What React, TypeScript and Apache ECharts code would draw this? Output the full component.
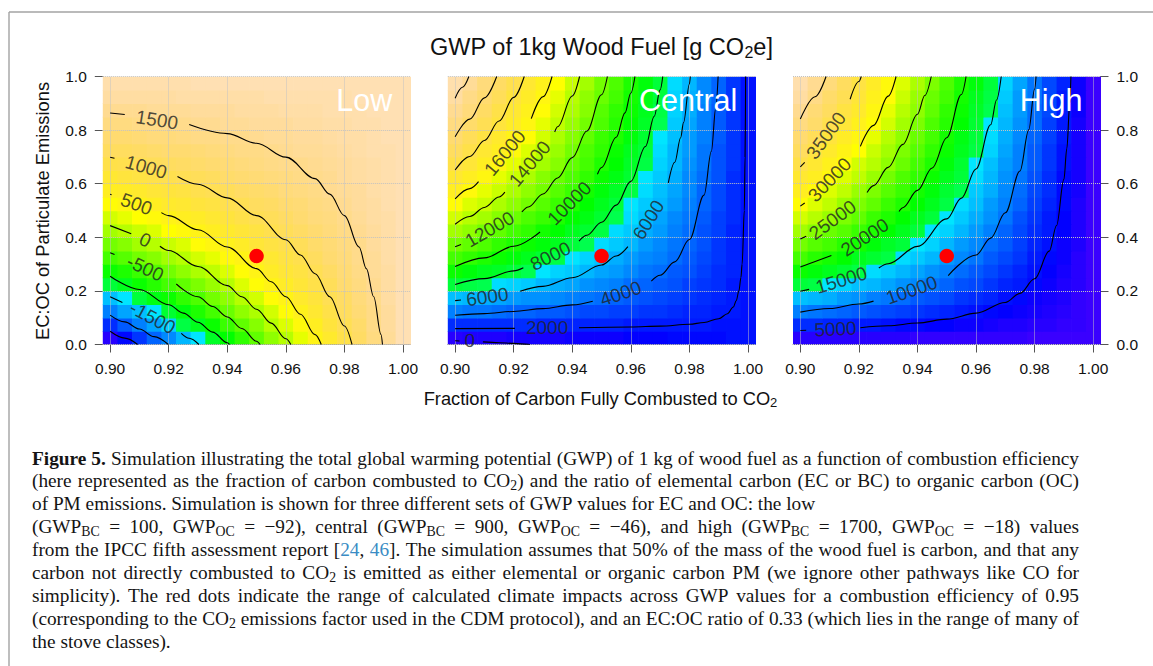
import React, { useEffect, useRef } from 'react';
import * as echarts from 'echarts';

const SANS = '"Liberation Sans", Arial, Helvetica, sans-serif';
const SERIF = '"Liberation Serif", "Times New Roman", serif';

// ---------------- data ----------------
const xCenters = [0.900, 0.905, 0.910, 0.915, 0.920, 0.925, 0.930, 0.935, 0.940, 0.945, 0.950, 0.955, 0.960, 0.965, 0.970, 0.975, 0.980, 0.985, 0.990, 0.995, 1.000];
const yCenters = [0.025, 0.075, 0.125, 0.175, 0.225, 0.275, 0.325, 0.375, 0.425, 0.475, 0.525, 0.575, 0.625, 0.675, 0.725, 0.775, 0.825, 0.875, 0.925, 0.975];
const xTicks = [0.90, 0.92, 0.94, 0.96, 0.98, 1.00];
const yTicks = [0, 0.2, 0.4, 0.6, 0.8, 1.0];
const panelNames = ['Low', 'Central', 'High'];
const colorLimits = [[-2950, 1850], [-650, 23000], [750, 43700]];
const redDot = [0.95, 0.33];

// rows from bottom (y = 0.025) to top (y = 0.975), columns x = 0.900 ... 1.000
const lowGrid = [
  [-2716, -2488, -2261, -2034, -1806, -1579, -1351, -1124, -896, -669, -441, -214, 14, 241, 469, 696, 923, 1151, 1378, 1606, 1833],
  [-2280, -2074, -1869, -1663, -1457, -1252, -1046, -840, -635, -429, -223, -18, 188, 394, 600, 805, 1011, 1217, 1422, 1628, 1833],
  [-1883, -1697, -1512, -1326, -1140, -954, -768, -582, -397, -211, -25, 161, 347, 533, 718, 904, 1090, 1276, 1462, 1648, 1833],
  [-1520, -1353, -1185, -1017, -849, -682, -514, -346, -179, -11, 157, 324, 492, 660, 828, 995, 1163, 1331, 1498, 1666, 1833],
  [-1187, -1036, -885, -734, -583, -432, -281, -130, 21, 172, 323, 474, 625, 776, 927, 1078, 1229, 1380, 1531, 1682, 1833],
  [-879, -744, -608, -472, -337, -201, -65, 70, 206, 342, 477, 613, 748, 884, 1020, 1155, 1291, 1427, 1562, 1698, 1833],
  [-595, -474, -352, -231, -110, 12, 133, 255, 376, 497, 619, 740, 862, 983, 1105, 1226, 1348, 1469, 1590, 1712, 1833],
  [-332, -224, -115, -7, 101, 210, 318, 426, 534, 643, 751, 859, 967, 1076, 1184, 1292, 1400, 1509, 1617, 1725, 1833],
  [-87, 9, 105, 201, 297, 393, 489, 585, 681, 777, 873, 969, 1065, 1161, 1257, 1353, 1449, 1545, 1641, 1737, 1833],
  [142, 226, 311, 395, 480, 564, 649, 734, 818, 903, 987, 1072, 1157, 1241, 1326, 1410, 1495, 1579, 1664, 1749, 1833],
  [355, 429, 503, 577, 651, 725, 798, 872, 946, 1020, 1094, 1168, 1242, 1316, 1390, 1464, 1538, 1612, 1686, 1759, 1833],
  [555, 619, 683, 747, 811, 874, 938, 1002, 1066, 1130, 1194, 1258, 1322, 1386, 1450, 1514, 1578, 1642, 1706, 1769, 1833],
  [742, 797, 851, 906, 961, 1015, 1070, 1124, 1179, 1233, 1288, 1342, 1397, 1451, 1506, 1561, 1615, 1670, 1724, 1779, 1833],
  [919, 964, 1010, 1056, 1102, 1147, 1193, 1239, 1285, 1330, 1376, 1422, 1467, 1513, 1559, 1605, 1650, 1696, 1742, 1788, 1833],
  [1085, 1122, 1160, 1197, 1235, 1272, 1309, 1347, 1384, 1422, 1459, 1497, 1534, 1571, 1609, 1646, 1684, 1721, 1759, 1796, 1833],
  [1242, 1271, 1301, 1330, 1360, 1390, 1419, 1449, 1478, 1508, 1538, 1567, 1597, 1626, 1656, 1685, 1715, 1745, 1774, 1804, 1833],
  [1390, 1412, 1434, 1456, 1478, 1501, 1523, 1545, 1567, 1589, 1612, 1634, 1656, 1678, 1700, 1722, 1745, 1767, 1789, 1811, 1833],
  [1530, 1545, 1560, 1576, 1591, 1606, 1621, 1636, 1651, 1667, 1682, 1697, 1712, 1727, 1742, 1758, 1773, 1788, 1803, 1818, 1833],
  [1663, 1672, 1680, 1689, 1697, 1706, 1714, 1723, 1731, 1740, 1748, 1757, 1765, 1774, 1782, 1791, 1799, 1808, 1816, 1825, 1833],
  [1789, 1791, 1793, 1796, 1798, 1800, 1802, 1805, 1807, 1809, 1811, 1813, 1816, 1818, 1820, 1822, 1824, 1827, 1829, 1831, 1833],
];

const centralGrid = [
  [504, 570, 637, 703, 770, 836, 903, 969, 1036, 1102, 1169, 1235, 1301, 1368, 1434, 1501, 1567, 1634, 1700, 1767, 1833],
  [2650, 2609, 2568, 2527, 2487, 2446, 2405, 2364, 2323, 2282, 2242, 2201, 2160, 2119, 2078, 2037, 1997, 1956, 1915, 1874, 1833],
  [4606, 4467, 4328, 4190, 4051, 3913, 3774, 3635, 3497, 3358, 3220, 3081, 2942, 2804, 2665, 2526, 2388, 2249, 2111, 1972, 1833],
  [6395, 6167, 5939, 5711, 5482, 5254, 5026, 4798, 4570, 4342, 4114, 3886, 3658, 3430, 3202, 2974, 2746, 2518, 2289, 2061, 1833],
  [8038, 7728, 7417, 7107, 6797, 6487, 6176, 5866, 5556, 5246, 4936, 4625, 4315, 4005, 3695, 3384, 3074, 2764, 2454, 2144, 1833],
  [9552, 9166, 8780, 8394, 8008, 7622, 7236, 6851, 6465, 6079, 5693, 5307, 4921, 4535, 4149, 3763, 3377, 2991, 2605, 2219, 1833],
  [10952, 10496, 10040, 9584, 9128, 8672, 8216, 7760, 7304, 6849, 6393, 5937, 5481, 5025, 4569, 4113, 3657, 3201, 2745, 2289, 1833],
  [12250, 11729, 11208, 10688, 10167, 9646, 9125, 8604, 8083, 7563, 7042, 6521, 6000, 5479, 4958, 4438, 3917, 3396, 2875, 2354, 1833],
  [13457, 12876, 12295, 11714, 11132, 10551, 9970, 9389, 8808, 8226, 7645, 7064, 6483, 5902, 5321, 4739, 4158, 3577, 2996, 2415, 1833],
  [14582, 13945, 13307, 12670, 12032, 11395, 10758, 10120, 9483, 8845, 8208, 7570, 6933, 6296, 5658, 5021, 4383, 3746, 3108, 2471, 1833],
  [15634, 14944, 14254, 13564, 12874, 12184, 11494, 10804, 10114, 9424, 8734, 8044, 7354, 6664, 5974, 5284, 4593, 3903, 3213, 2523, 1833],
  [16618, 15879, 15140, 14400, 13661, 12922, 12183, 11444, 10704, 9965, 9226, 8487, 7747, 7008, 6269, 5530, 4790, 4051, 3312, 2573, 1833],
  [17542, 16757, 15971, 15186, 14400, 13615, 12830, 12044, 11259, 10473, 9688, 8902, 8117, 7331, 6546, 5761, 4975, 4190, 3404, 2619, 1833],
  [18411, 17582, 16753, 15925, 15096, 14267, 13438, 12609, 11780, 10951, 10122, 9293, 8465, 7636, 6807, 5978, 5149, 4320, 3491, 2662, 1833],
  [19230, 18360, 17490, 16620, 15750, 14881, 14011, 13141, 12271, 11401, 10532, 9662, 8792, 7922, 7052, 6182, 5313, 4443, 3573, 2703, 1833],
  [20002, 19094, 18185, 17277, 16368, 15460, 14551, 13643, 12735, 11826, 10918, 10009, 9101, 8192, 7284, 6376, 5467, 4559, 3650, 2742, 1833],
  [20732, 19787, 18842, 17897, 16952, 16008, 15063, 14118, 13173, 12228, 11283, 10338, 9393, 8448, 7503, 6558, 5613, 4668, 3723, 2778, 1833],
  [21423, 20444, 19464, 18485, 17505, 16526, 15546, 14567, 13587, 12608, 11628, 10649, 9669, 8690, 7710, 6731, 5751, 4772, 3792, 2813, 1833],
  [22079, 21066, 20054, 19042, 18030, 17017, 16005, 14993, 13980, 12968, 11956, 10944, 9931, 8919, 7907, 6895, 5882, 4870, 3858, 2846, 1833],
  [22701, 21657, 20614, 19571, 18527, 17484, 16440, 15397, 14354, 13310, 12267, 11224, 10180, 9137, 8094, 7050, 6007, 4964, 3920, 2877, 1833],
];

const highGrid = [
  [2845, 2795, 2744, 2693, 2643, 2592, 2542, 2491, 2440, 2390, 2339, 2289, 2238, 2187, 2137, 2086, 2036, 1985, 1935, 1884, 1833],
  [6743, 6498, 6252, 6007, 5761, 5516, 5270, 5025, 4779, 4534, 4288, 4043, 3797, 3552, 3306, 3061, 2815, 2570, 2324, 2079, 1833],
  [10294, 9871, 9448, 9025, 8602, 8179, 7756, 7333, 6910, 6487, 6064, 5641, 5218, 4795, 4372, 3949, 3525, 3102, 2679, 2256, 1833],
  [13544, 12958, 12373, 11787, 11202, 10616, 10031, 9445, 8860, 8274, 7689, 7103, 6518, 5932, 5347, 4761, 4175, 3590, 3004, 2419, 1833],
  [16528, 15793, 15058, 14323, 13589, 12854, 12119, 11385, 10650, 9915, 9180, 8446, 7711, 6976, 6242, 5507, 4772, 4037, 3303, 2568, 1833],
  [19277, 18405, 17533, 16661, 15789, 14916, 14044, 13172, 12300, 11428, 10555, 9683, 8811, 7939, 7067, 6194, 5322, 4450, 3578, 2706, 1833],
  [21820, 20820, 19821, 18822, 17822, 16823, 15824, 14825, 13825, 12826, 11827, 10827, 9828, 8829, 7829, 6830, 5831, 4831, 3832, 2833, 1833],
  [24177, 23060, 21943, 20826, 19709, 18591, 17474, 16357, 15240, 14123, 13005, 11888, 10771, 9654, 8537, 7419, 6302, 5185, 4068, 2951, 1833],
  [26369, 25143, 23916, 22689, 21462, 20235, 19009, 17782, 16555, 15328, 14101, 12875, 11648, 10421, 9194, 7967, 6741, 5514, 4287, 3060, 1833],
  [28413, 27084, 25755, 24426, 23097, 21768, 20439, 19110, 17781, 16452, 15123, 13794, 12465, 11136, 9807, 8478, 7149, 5820, 4491, 3162, 1833],
  [30322, 28898, 27473, 26049, 24624, 23200, 21775, 20351, 18927, 17502, 16078, 14653, 13229, 11804, 10380, 8956, 7531, 6107, 4682, 3258, 1833],
  [32110, 30596, 29083, 27569, 26055, 24541, 23027, 21513, 20000, 18486, 16972, 15458, 13944, 12430, 10916, 9403, 7889, 6375, 4861, 3347, 1833],
  [33788, 32191, 30593, 28995, 27397, 25800, 24202, 22604, 21006, 19409, 17811, 16213, 14615, 13018, 11420, 9822, 8224, 6627, 5029, 3431, 1833],
  [35366, 33690, 32013, 30336, 28660, 26983, 25306, 23630, 21953, 20276, 18600, 16923, 15246, 13570, 11893, 10217, 8540, 6863, 5187, 3510, 1833],
  [36853, 35102, 33351, 31600, 29849, 28098, 26347, 24596, 22845, 21094, 19343, 17592, 15841, 14090, 12339, 10588, 8837, 7086, 5335, 3584, 1833],
  [38256, 36435, 34613, 32792, 30971, 29150, 27329, 25508, 23687, 21866, 20044, 18223, 16402, 14581, 12760, 10939, 9118, 7297, 5476, 3654, 1833],
  [39582, 37694, 35807, 33919, 32032, 30145, 28257, 26370, 24482, 22595, 20707, 18820, 16933, 15045, 13158, 11270, 9383, 7496, 5608, 3721, 1833],
  [40837, 38887, 36936, 34986, 33036, 31086, 29136, 27186, 25235, 23285, 21335, 19385, 17435, 15485, 13534, 11584, 9634, 7684, 5734, 3783, 1833],
  [42027, 40017, 38007, 35998, 33988, 31978, 29969, 27959, 25949, 23940, 21930, 19920, 17911, 15901, 13891, 11882, 9872, 7862, 5853, 3843, 1833],
  [43156, 41090, 39024, 36958, 34892, 32826, 30759, 28693, 26627, 24561, 22495, 20429, 18363, 16296, 14230, 12164, 10098, 8032, 5966, 3900, 1833],
];

// contour lines (segments broken where the labels sit), points [x, EC:OC]
const lowContours = [
  { level: 1500, segs: [[[0.9, 0.864], [0.905, 0.858]], [[0.927, 0.8205], [0.94, 0.787], [0.95, 0.751], [0.96, 0.699], [0.97, 0.619], [0.975, 0.561], [0.98, 0.481], [0.985, 0.364], [0.9875, 0.283], [0.99, 0.178], [0.9925, 0.037], [0.993, 0]]] },
  { level: 1000, segs: [[[0.9, 0.699], [0.9015, 0.695]], [[0.923, 0.627], [0.93, 0.598], [0.94, 0.547], [0.95, 0.481], [0.96, 0.391], [0.965, 0.334], [0.97, 0.264], [0.975, 0.178], [0.98, 0.069], [0.9826, 0]]] },
  { level: 500, segs: [[[0.9, 0.561], [0.9005, 0.559]], [[0.9175, 0.492], [0.92, 0.481], [0.93, 0.428], [0.94, 0.364], [0.95, 0.283], [0.955, 0.234], [0.96, 0.178], [0.965, 0.113], [0.97, 0.037], [0.9721, 0]]] },
  { level: 0, segs: [[[0.9, 0.4436], [0.9072, 0.4134]], [[0.917, 0.3665], [0.92, 0.3505], [0.93, 0.291], [0.94, 0.2195], [0.945, 0.178], [0.95, 0.1316], [0.955, 0.0798], [0.96, 0.0213], [0.9617, 0]]] },
  { level: -500, segs: [[[0.9, 0.3427], [0.9015, 0.336]], [[0.9226, 0.2258], [0.93, 0.178], [0.935, 0.142], [0.94, 0.1027], [0.945, 0.0597], [0.95, 0.0123], [0.9512, 0]]] },
  { level: -1000, segs: [[[0.9, 0.2549], [0.91, 0.2053], [0.92, 0.1486], [0.925, 0.117], [0.93, 0.083], [0.935, 0.0463], [0.94, 0.0064], [0.9408, 0]]] },
  { level: -1500, segs: [[[0.9, 0.178], [0.9042, 0.157]], [[0.9243, 0.0412], [0.927, 0.0231], [0.9303, 0]]] },
  { level: -2000, segs: [[[0.9, 0.1098], [0.905, 0.0845], [0.91, 0.0577], [0.915, 0.0293], [0.9199, 0]]] },
  { level: -2500, segs: [[[0.9, 0.0492], [0.905, 0.0237], [0.9094, 0]]] },
];
const lowLabels = [
  [0.916, 0.838, '1500', -9], [0.9123, 0.662, '1000', -16], [0.909, 0.524, '500', -20],
  [0.912, 0.39, '0', -24], [0.912, 0.285, '-500', -25], [0.9145, 0.1, '-1500', -28],
];

const centralContours = [
  { level: 0, segs: [[[0.9, 0.0139], [0.9015, 0.0132]], [[0.9095, 0.0098], [0.915, 0.0068], [0.92, 0.0041], [0.925, 0.0008], [0.9255, 0]]] },
  { level: 2000, segs: [[[0.9, 0.0594], [0.9204, 0.0603]], [[0.9423, 0.0623], [0.96, 0.0653], [0.97, 0.0687], [0.98, 0.0754], [0.985, 0.0822], [0.99, 0.0962], [0.993, 0.1146], [0.995, 0.1402], [0.996, 0.1636], [0.9969, 0.2], [0.9976, 0.25], [0.998, 0.3], [0.99875, 0.5], [0.999, 0.7], [0.9992, 1.0]]] },
  { level: 4000, segs: [[[0.9, 0.109], [0.91, 0.1153], [0.92, 0.1233], [0.93, 0.1337], [0.94, 0.1479], [0.947, 0.1614]], [[0.967, 0.2366], [0.97, 0.2582], [0.975, 0.3084], [0.98, 0.3918], [0.985, 0.5574], [0.9875, 0.721], [0.989, 0.883], [0.9898, 1.0]]] },
  { level: 6000, segs: [[[0.9, 0.1636], [0.902, 0.166]], [[0.9222, 0.1987], [0.93, 0.217], [0.94, 0.249], [0.95, 0.2964], [0.955, 0.3303], [0.959, 0.3649]], [[0.9728, 0.6034], [0.975, 0.68], [0.977, 0.7715], [0.978, 0.828], [0.98, 0.972], [0.9803, 1.0]]] },
  { level: 8000, segs: [[[0.9, 0.2238], [0.91, 0.2459], [0.92, 0.2746], [0.9233, 0.2862]], [[0.9423, 0.3859], [0.945, 0.4075], [0.95, 0.456], [0.955, 0.5202], [0.96, 0.6088], [0.965, 0.739], [0.968, 0.8516], [0.97, 0.95], [0.9709, 1.0]]] },
  { level: 10000, segs: [[[0.9, 0.2906], [0.91, 0.3233], [0.92, 0.3667], [0.929, 0.4198]], [[0.9486, 0.635], [0.95, 0.6605], [0.955, 0.7735], [0.958, 0.8644], [0.96, 0.9385], [0.9614, 1.0]]] },
  { level: 12000, segs: [[[0.9, 0.3651], [0.902, 0.3732]], [[0.9228, 0.4947], [0.925, 0.5131], [0.93, 0.5613], [0.935, 0.6213], [0.94, 0.6972], [0.945, 0.7964], [0.95, 0.9318], [0.952, 1.0]]] },
  { level: 14000, segs: [[[0.9, 0.4487], [0.905, 0.4777], [0.91, 0.5112], [0.915, 0.5506], [0.917, 0.5683]], [[0.934, 0.793], [0.935, 0.8123], [0.94, 0.9275], [0.9425, 1.0]]] },
  { level: 16000, segs: [[[0.9, 0.5432], [0.905, 0.5817], [0.908, 0.6078]], [[0.926, 0.8426], [0.93, 0.9243], [0.9331, 1.0]]] },
  { level: 18000, segs: [[[0.9, 0.651], [0.905, 0.7014], [0.91, 0.7613], [0.915, 0.8337], [0.92, 0.922], [0.9236, 1.0]]] },
  { level: 20000, segs: [[[0.9, 0.7749], [0.905, 0.8408], [0.91, 0.9204], [0.9142, 1.0]]] },
  { level: 22000, segs: [[[0.9, 0.9189], [0.9025, 0.9598], [0.9047, 1.0]]] },
];
const centralLabels = [
  [0.905, 0.015, '0', -2], [0.9314, 0.062, '2000', 0], [0.9565, 0.19, '4000', 19],
  [0.911, 0.178, '6000', 8], [0.966, 0.465, '6000', 58], [0.9325, 0.33, '8000', 26],
  [0.939, 0.527, '10000', 45], [0.9118, 0.43, '12000', 30], [0.9255, 0.675, '14000', 50],
  [0.917, 0.715, '16000', 50],
];

const highContours = [
  { level: 5000, segs: [[[0.9, 0.0521], [0.902, 0.0529]], [[0.9205, 0.0627], [0.93, 0.0698], [0.94, 0.08], [0.95, 0.0945], [0.96, 0.117], [0.97, 0.1567], [0.975, 0.1906], [0.98, 0.2452], [0.985, 0.3484], [0.9875, 0.444], [0.99, 0.6162], [0.991, 0.7308], [0.992, 0.899], [0.9924, 1.0]]] },
  { level: 10000, segs: [[[0.9, 0.1207], [0.91, 0.1341], [0.92, 0.1513], [0.925, 0.1619]], [[0.9505, 0.2573], [0.96, 0.3339], [0.965, 0.3971], [0.97, 0.4915], [0.975, 0.6472], [0.978, 0.801], [0.98, 0.953], [0.9805, 1.0]]] },
  { level: 15000, segs: [[[0.9, 0.1989], [0.903, 0.2057]], [[0.9268, 0.2854], [0.93, 0.3014], [0.94, 0.3663], [0.95, 0.4688], [0.955, 0.5462], [0.96, 0.6551], [0.965, 0.82], [0.967, 0.9125], [0.9686, 1.0]]] },
  { level: 20000, segs: [[[0.9, 0.2888], [0.9106, 0.3319]], [[0.9337, 0.4961], [0.935, 0.5105], [0.94, 0.575], [0.945, 0.6588], [0.95, 0.7717], [0.955, 0.9327], [0.9566, 1.0]]] },
  { level: 25000, segs: [[[0.9, 0.3934], [0.902, 0.4042]], [[0.9228, 0.5672], [0.925, 0.5928], [0.93, 0.6609], [0.935, 0.7468], [0.94, 0.8591], [0.9425, 0.929], [0.9447, 1.0]]] },
  { level: 30000, segs: [[[0.9, 0.5163], [0.9015, 0.528]], [[0.9205, 0.7394], [0.925, 0.8176], [0.93, 0.9269], [0.9327, 1.0]]] },
  { level: 35000, segs: [[[0.9, 0.6631], [0.9015, 0.6795]], [[0.917, 0.915], [0.92, 0.9811], [0.9208, 1.0]]] },
  { level: 40000, segs: [[[0.9, 0.8414], [0.905, 0.9243], [0.9088, 1.0]]] },
];
const highLabels = [
  [0.912, 0.058, '5000', 3], [0.938, 0.203, '10000', 19], [0.914, 0.24, '15000', 17],
  [0.922, 0.40, '20000', 33], [0.911, 0.465, '25000', 36], [0.910, 0.615, '30000', 46],
  [0.9088, 0.78, '35000', 54],
];

const captionLines = [
  { text: '*Figure 5.* Simulation illustrating the total global warming potential (GWP) of 1 kg of wood fuel as a function of combustion efficiency', justify: true },
  { text: '(here represented as the fraction of carbon combusted to CO~2~) and the ratio of elemental carbon (EC or BC) to organic carbon (OC)', justify: true },
  { text: 'of PM emissions. Simulation is shown for three different sets of GWP values for EC and OC: the low', justify: false },
  { text: '(GWP~BC~ = 100, GWP~OC~ = \u221292), central (GWP~BC~ = 900, GWP~OC~ = \u221246), and high (GWP~BC~ = 1700, GWP~OC~ = \u221218) values', justify: true },
  { text: 'from the IPCC fifth assessment report [^24^, ^46^]. The simulation assumes that 50% of the mass of the wood fuel is carbon, and that any', justify: true },
  { text: 'carbon not directly combusted to CO~2~ is emitted as either elemental or organic carbon PM (we ignore other pathways like CO for', justify: true },
  { text: 'simplicity). The red dots indicate the range of calculated climate impacts across GWP values for a combustion efficiency of 0.95', justify: true },
  { text: '(corresponding to the CO~2~ emissions factor used in the CDM protocol), and an EC:OC ratio of 0.33 (which lies in the range of many of', justify: true },
  { text: 'the stove classes).', justify: false },
];

// ---------------- layout / style ----------------
const PANEL_LEFT = [102.8, 447.8, 793];
const PANEL_TOP = 76.5;
const PANEL_W = 307.5;
const PANEL_H = 268;
const X_MIN = 0.8975;
const X_MAX = 1.0025;

const CAP_LEFT = 32;
const CAP_RIGHT = 1079;
const CAP_Y0 = 458;
const CAP_STEP = 22.9;
const CAP_SIZE = 19.3;

function hsvHex(h: number, s: number, v: number) {
  const i = Math.floor(h * 6);
  const f = h * 6 - i;
  const p = v * (1 - s), q = v * (1 - f * s), t = v * (1 - (1 - f) * s);
  const table = [[v, t, p], [q, v, p], [p, v, t], [p, q, v], [t, p, v], [v, p, q]];
  const [r, g, b] = table[((i % 6) + 6) % 6];
  return '#' + [r, g, b].map((c) => Math.round(c * 255).toString(16).padStart(2, '0')).join('');
}
function seqPal(a: number, b: number, n: number) {
  if (n === 1) return [a];
  return Array.from({ length: n }, (_, k) => a + ((b - a) * k) / (n - 1));
}
function topoColors(n: number) {
  const j = Math.floor(n / 3), k = Math.floor(n / 3), i = n - j - k;
  const c1 = seqPal(43 / 60, 31 / 60, i).map((h) => hsvHex(h, 1, 1));
  const c2 = seqPal(23 / 60, 11 / 60, j).map((h) => hsvHex(h, 1, 1));
  const hs = seqPal(10 / 60, 6 / 60, k), ss = seqPal(1, 0.3, k);
  const c3 = hs.map((h, m) => hsvHex(h, ss[m], 1));
  return [...c1, ...c2, ...c3];
}
function makePieces(lim: number[], cols: string[]) {
  const [lo, hi] = lim;
  const n = cols.length;
  const step = (hi - lo) / n;
  return cols.map((c, i) => ({
    gte: i === 0 ? lo - 1e6 : lo + i * step,
    lt: i === n - 1 ? hi + 1e6 : lo + (i + 1) * step,
    color: c,
  }));
}

let measureCtx: any = null;
function measure(text: string, size: number, family: string, weight = 'normal') {
  if (!measureCtx) measureCtx = document.createElement('canvas').getContext('2d');
  measureCtx.font = `${weight} ${size}px ${family}`;
  return measureCtx.measureText(text).width;
}

type Run = { t: string; s: string };
function parseMarkup(src: string): Run[] {
  const runs: Run[] = [];
  const re = /\*([^*]+)\*|~([^~]+)~|\^([^^]+)\^|([^*~^]+)/g;
  let m: any;
  while ((m = re.exec(src))) {
    if (m[1] !== undefined) runs.push({ t: m[1], s: 'b' });
    else if (m[2] !== undefined) runs.push({ t: m[2], s: 'sub' });
    else if (m[3] !== undefined) runs.push({ t: m[3], s: 'link' });
    else runs.push({ t: m[4], s: 'n' });
  }
  return runs;
}
function splitWords(runs: Run[]): Run[][] {
  const words: Run[][] = [[]];
  runs.forEach((r) => {
    const parts = r.t.split(' ');
    parts.forEach((p, i) => {
      if (i > 0) words.push([]);
      if (p) words[words.length - 1].push({ t: p, s: r.s });
    });
  });
  return words.filter((w) => w.length > 0);
}

type RunStyle = { size: number; subSize: number; subDy: number; family: string; color: string };
function runMetrics(r: Run, st: RunStyle) {
  const size = r.s === 'sub' ? st.subSize : st.size;
  const weight = r.s === 'b' ? 'bold' : 'normal';
  const fill = r.s === 'link' ? '#3a8cc4' : st.color;
  const dy = r.s === 'sub' ? st.subDy : 0;
  return { size, weight, fill, dy, w: measure(r.t, size, st.family, weight) };
}
function runEl(r: Run, x: number, y: number, st: RunStyle) {
  const m = runMetrics(r, st);
  return {
    type: 'text', x, y: y + m.dy, z: 100, silent: true,
    style: { text: r.t, fill: m.fill, fontSize: m.size, fontFamily: st.family, fontWeight: m.weight, align: 'left', verticalAlign: 'middle' },
  };
}
function centeredRuns(src: string, cx: number, cy: number, st: RunStyle) {
  const runs = parseMarkup(src);
  const total = runs.reduce((s, r) => s + runMetrics(r, st).w, 0);
  let x = cx - total / 2;
  return runs.map((r) => {
    const el = runEl(r, x, cy, st);
    x += runMetrics(r, st).w;
    return el;
  });
}

const renderCell = (params: any, api: any) => {
  const x = api.value(0);
  const y = api.value(1);
  const a = api.coord([x - 0.0025, y + 0.025]);
  const b = api.coord([x + 0.0025, y - 0.025]);
  return {
    type: 'rect',
    shape: { x: a[0], y: a[1], width: b[0] - a[0] + 0.7, height: b[1] - a[1] + 0.7 },
    style: { fill: api.visual('color') },
  };
};

export default function App() {
  const ref = useRef<HTMLDivElement>(null);
  useEffect(() => {
    const el = ref.current;
    if (!el) return;
    const chart = echarts.init(el, undefined, { renderer: 'svg' });

    const panels = [
      { grid: lowGrid, contours: lowContours, labels: lowLabels },
      { grid: centralGrid, contours: centralContours, labels: centralLabels },
      { grid: highGrid, contours: highContours, labels: highLabels },
    ];
    const palette = topoColors(100);

    const grids: any[] = [];
    const xAxes: any[] = [];
    const yAxes: any[] = [];
    const series: any[] = [];
    const visualMaps: any[] = [];

    panels.forEach((p, k) => {
      grids.push({ left: PANEL_LEFT[k], top: PANEL_TOP, width: PANEL_W, height: PANEL_H });
      xAxes.push({
        gridIndex: k, type: 'value', min: X_MIN, max: X_MAX,
        axisLine: { show: true, onZero: false, lineStyle: { color: '#8a8a8a', width: 1 } },
        axisTick: { show: true, customValues: xTicks, length: 8, lineStyle: { color: '#555', width: 1 } },
        axisLabel: { customValues: xTicks, formatter: (v: number) => v.toFixed(2), fontSize: 15.5, color: '#111', margin: 16, fontFamily: SANS },
        splitLine: { show: false },
      });
      yAxes.push({
        gridIndex: k, type: 'value', min: 0, max: 1, interval: 0.2,
        show: k !== 1, position: k === 2 ? 'right' : 'left',
        axisLine: { show: true, onZero: false, lineStyle: { color: '#8a8a8a', width: 1 } },
        axisTick: { show: true, length: 8, lineStyle: { color: '#555', width: 1 } },
        axisLabel: { formatter: (v: number) => v.toFixed(1), fontSize: 15.5, color: '#111', margin: 16, fontFamily: SANS },
        splitLine: { show: false },
      });

      const cells: number[][] = [];
      p.grid.forEach((row, i) => row.forEach((v, j) => cells.push([xCenters[j], yCenters[i], v])));
      const heatIdx = series.length;
      series.push({
        type: 'custom', xAxisIndex: k, yAxisIndex: k, renderItem: renderCell, data: cells,
        encode: { x: 0, y: 1 }, clip: true, silent: true, z: 1,
      });
      visualMaps.push({ type: 'piecewise', show: false, seriesIndex: heatIdx, dimension: 2, pieces: makePieces(colorLimits[k], palette) });

      series.push({
        type: 'lines', coordinateSystem: 'cartesian2d', xAxisIndex: k, yAxisIndex: k, silent: true, z: 2,
        lineStyle: { color: '#c2c2c2', width: 1, type: 'dotted', opacity: 1 },
        data: [
          ...xTicks.map((v) => ({ coords: [[v, 0], [v, 1]] })),
          ...yTicks.map((v) => ({ coords: [[X_MIN, v], [X_MAX, v]] })),
        ],
      });

      p.contours.forEach((c) => {
        c.segs.forEach((seg) => {
          series.push({
            type: 'line', xAxisIndex: k, yAxisIndex: k, data: seg, showSymbol: false, symbol: 'none',
            smooth: 0.35, smoothMonotone: 'x', clip: true, silent: true, z: 3,
            lineStyle: { color: '#000', width: 1.1 },
          });
        });
      });

      series.push({
        type: 'scatter', xAxisIndex: k, yAxisIndex: k, symbolSize: 1, silent: true, z: 4,
        itemStyle: { color: 'rgba(0,0,0,0)' },
        label: { show: true, position: 'inside', formatter: '{b}', fontSize: 19, color: '#222', fontFamily: SANS },
        data: p.labels.map((l: any) => ({ value: [l[0], l[1]], name: l[2], label: { rotate: l[3] } })),
      });

      series.push({
        type: 'scatter', xAxisIndex: k, yAxisIndex: k, symbolSize: 14.5, silent: true, z: 5,
        itemStyle: { color: '#ff0000', opacity: 1 },
        data: [redDot],
      });
    });

    const g: any[] = [];
    // frame
    g.push({ type: 'line', z: 100, silent: true, shape: { x1: 9, y1: 12, x2: 1153, y2: 12 }, style: { stroke: '#a3a3a3', lineWidth: 1.4 } });
    g.push({ type: 'line', z: 100, silent: true, shape: { x1: 9, y1: 12, x2: 9, y2: 666 }, style: { stroke: '#a3a3a3', lineWidth: 1.4 } });

    // titles
    g.push(...centeredRuns('GWP of 1kg Wood Fuel [g CO~2~e]', 601.5, 47, { size: 23.5, subSize: 16, subDy: 5, family: SANS, color: '#111' }));
    g.push(...centeredRuns('Fraction of Carbon Fully Combusted to CO~2~', 600.5, 398, { size: 18.3, subSize: 13, subDy: 4.5, family: SANS, color: '#111' }));
    g.push({
      type: 'text', x: 42.5, y: 211, rotation: Math.PI / 2, z: 100, silent: true,
      style: { text: 'EC:OC of Particulate Emissions', fill: '#111', fontSize: 18.3, fontFamily: SANS, align: 'center', verticalAlign: 'middle' },
    });
    panelNames.forEach((nm, k) => {
      g.push({
        type: 'text', x: PANEL_LEFT[k] + PANEL_W - 18, y: 100, z: 100, silent: true,
        style: { text: nm, fill: '#ffffff', fontSize: 30.5, fontFamily: SANS, align: 'right', verticalAlign: 'middle' },
      });
    });

    // caption (justified lines)
    const capStyle: RunStyle = { size: CAP_SIZE, subSize: 13.8, subDy: 4.7, family: SERIF, color: '#141414' };
    captionLines.forEach((line, li) => {
      const y = CAP_Y0 + li * CAP_STEP;
      const words = splitWords(parseMarkup(line.text));
      const widths = words.map((w) => w.reduce((s, r) => s + runMetrics(r, capStyle).w, 0));
      const total = widths.reduce((a, b) => a + b, 0);
      const natural = measure(' ', CAP_SIZE, SERIF);
      let gap = line.justify && words.length > 1 ? (CAP_RIGHT - CAP_LEFT - total) / (words.length - 1) : natural;
      gap = Math.max(gap, natural * 0.5);
      let x = CAP_LEFT;
      words.forEach((w) => {
        w.forEach((r) => {
          g.push(runEl(r, x, y, capStyle));
          x += runMetrics(r, capStyle).w;
        });
        x += gap;
      });
    });

    chart.setOption({
      animation: false,
      backgroundColor: '#ffffff',
      grid: grids,
      xAxis: xAxes,
      yAxis: yAxes,
      visualMap: visualMaps,
      series,
      graphic: { elements: g },
    });
    return () => chart.dispose();
  }, []);

  return <div ref={ref} style={{ position: 'fixed', left: 0, top: 0, width: 1153, height: 666, background: '#fff' }} />;
}
